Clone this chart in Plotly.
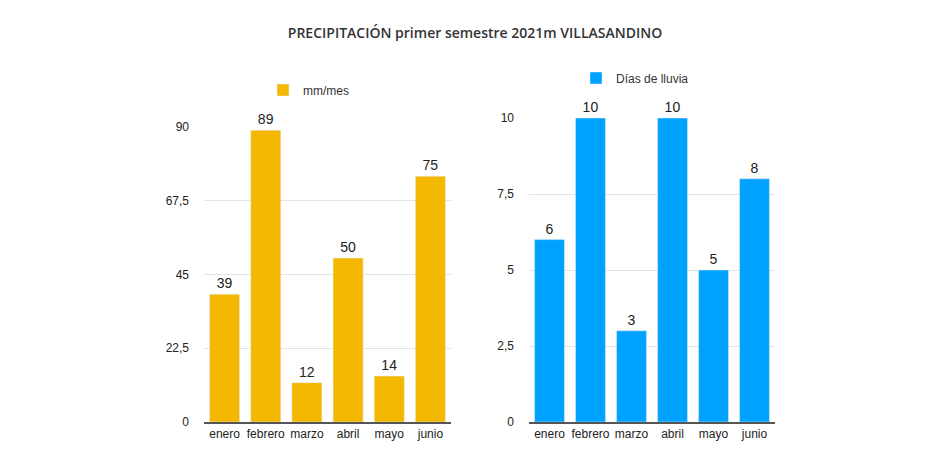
import plotly.graph_objects as go

meses = ["enero", "febrero", "marzo", "abril", "mayo", "junio"]
mm_mes = [39, 89, 12, 50, 14, 75]
dias_lluvia = [6, 10, 3, 10, 5, 8]

mm_ticks = [0, 22.5, 45, 67.5, 90]
mm_ticktext = ["0", "22,5", "45", "67,5", "90"]
dias_ticks = [0, 2.5, 5, 7.5, 10]
dias_ticktext = ["0", "2,5", "5", "7,5", "10"]

W, H = 950, 450
OFF = 8  # default body margin of the html page
GOLD = "#F5B800"
BLUE = "#00A2FF"
FONT = "Liberation Sans, Arial, sans-serif"


def px_x(v):
    return (v - OFF) / W


def px_y(v):
    return 1 - (v - OFF) / H


fig = go.Figure()

fig.add_trace(go.Bar(
    x=meses, y=mm_mes, name="mm/mes",
    marker_color=GOLD, text=mm_mes, textposition="outside",
    textfont=dict(size=14, color="#222"), cliponaxis=False,
    xaxis="x", yaxis="y", legend="legend", showlegend=True,
))
fig.add_trace(go.Bar(
    x=meses, y=dias_lluvia, name="Días de lluvia",
    marker_color=BLUE, text=dias_lluvia, textposition="outside",
    textfont=dict(size=14, color="#222"), cliponaxis=False,
    xaxis="x2", yaxis="y2", legend="legend2", showlegend=True,
))

axis_common = dict(
    showgrid=True, gridcolor="#e3e3e3", gridwidth=1, automargin=False,
    zeroline=False, ticks="", tickfont=dict(size=12, color="#222"),
)
xaxis_common = dict(
    showline=True, linecolor="#555", linewidth=1.5, ticks="", automargin=False,
    tickfont=dict(size=12, color="#222"),
)

fig.update_layout(
    width=W, height=H,
    margin=dict(l=0, r=0, t=0, b=0),
    paper_bgcolor="white", plot_bgcolor="white",
    font=dict(family=FONT, color="#333"),
    bargap=0.27,
    title=dict(
        text="PRECIPITACIÓN primer semestre 2021m VILLASANDINO",
        font=dict(family="Open Sans, sans-serif", size=14, color="#333", weight=600),
        x=px_x(475), xanchor="center", y=px_y(33), yanchor="middle",
    ),
    xaxis=dict(domain=[px_x(204), px_x(451)], anchor="y", **xaxis_common),
    xaxis2=dict(domain=[px_x(529), px_x(775)], anchor="y2", **xaxis_common),
    yaxis=dict(domain=[px_y(422), px_y(127)], anchor="x", range=[0, 90],
               tickvals=mm_ticks, ticktext=mm_ticktext, ticklabelstandoff=14,
               **axis_common),
    yaxis2=dict(domain=[px_y(422), px_y(118)], anchor="x2", range=[0, 10],
                tickvals=dias_ticks, ticktext=dias_ticktext, ticklabelstandoff=14,
                **axis_common),
    legend=dict(x=px_x(263), y=px_y(90), xanchor="left", yanchor="middle",
                font=dict(size=12, color="#333"), bgcolor="rgba(0,0,0,0)"),
    legend2=dict(x=px_x(576), y=px_y(78), xanchor="left", yanchor="middle",
                 font=dict(size=12, color="#333"), bgcolor="rgba(0,0,0,0)"),
)

fig.write_html("out.html")
